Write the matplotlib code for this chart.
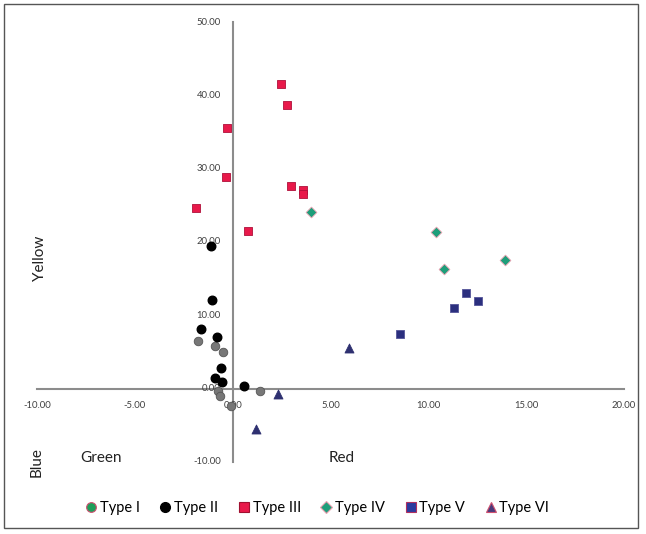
import matplotlib
matplotlib.use("Agg")
import matplotlib.pyplot as plt
from matplotlib.patches import Rectangle
from matplotlib.lines import Line2D

plt.rcParams['font.family'] = ['Lato', 'DejaVu Sans']

# Data (x = Green(-)/Red(+), y = Blue(-)/Yellow(+))
type1_x = [-1.77, -0.92, -0.47, 1.41, -0.75, -0.66, -0.07]
type1_y = [6.5, 5.8, 5.0, -0.3, -0.3, -1.0, -2.3]

type2_x = [-1.09, -1.06, -1.62, -0.80, -0.58, -0.90, -0.56, 0.58]
type2_y = [19.4, 12.1, 8.1, 7.1, 2.8, 1.5, 0.9, 0.3]

type3_x = [2.45, 2.77, -0.27, -0.32, 3.00, 3.59, 3.59, -1.89, 0.77]
type3_y = [41.6, 38.7, 35.6, 28.8, 27.7, 27.1, 26.6, 24.7, 21.5]

type4_x = [4.0, 10.4, 10.8, 13.9]
type4_y = [24.1, 21.3, 16.3, 17.6]

type5_x = [11.9, 12.55, 11.3, 8.57]
type5_y = [13.1, 11.9, 11.0, 7.4]

type6_x = [5.92, 2.31, 1.19]
type6_y = [5.6, -0.7, -5.5]

xticks = [-10, -5, 0, 5, 10, 15, 20]
yticks = [-10, 0, 10, 20, 30, 40, 50]

fig = plt.figure(figsize=(6.46, 5.34), dpi=100)
fig.patches.append(Rectangle((0.006, 0.011), 0.982, 0.982, transform=fig.transFigure,
                             fill=False, edgecolor='#555555', linewidth=1.0))

ax = fig.add_axes([37/646, 1-462/534, (624-37)/646, (462-22)/534])
ax.set_xlim(-10, 20)
ax.set_ylim(-10, 50)

for s in ['top', 'right']:
    ax.spines[s].set_visible(False)
ax.spines['left'].set_position(('data', 0))
ax.spines['bottom'].set_position(('data', 0))
for s in ['left', 'bottom']:
    ax.spines[s].set_color('#8c8c8c')
    ax.spines[s].set_linewidth(1.5)
ax.tick_params(length=0)
ax.set_xticks(xticks)
ax.set_yticks(yticks)
ax.set_xticklabels([])
ax.set_yticklabels([])
for v in xticks:
    ax.text(v, -2.3, f"{v:.2f}", ha='center', va='center', fontsize=6.8, color='#404040')
for v in yticks:
    ax.text(-0.6, v, f"{v:.2f}", ha='right', va='center', fontsize=6.8, color='#404040')

ax.scatter(type1_x, type1_y, marker='o', s=38, color='#777777', edgecolor='#555555', linewidth=0.6, zorder=3)
ax.scatter(type2_x, type2_y, marker='o', s=38, color='#000000', zorder=3)
ax.scatter(type3_x, type3_y, marker='s', s=36, color='#E8194A', edgecolor='#B0103A', linewidth=0.6, zorder=3)
ax.scatter(type4_x, type4_y, marker='D', s=30, color='#1E9E7A', edgecolor='#E8A0B0', linewidth=0.6, zorder=3)
ax.scatter(type5_x, type5_y, marker='s', s=36, color='#2B2F7E', edgecolor='#555599', linewidth=0.6, zorder=3)
ax.scatter(type6_x, type6_y, marker='^', s=42, color='#2E3070', edgecolor='#2E3070', linewidth=0.6, zorder=3)

# Axis direction labels
fig.text(40/646, 1-258/534, "Yellow", rotation=90, ha='center', va='center', fontsize=11, color='#222222')
fig.text(37/646, 1-462/534, "Blue", rotation=90, ha='center', va='center', fontsize=11, color='#222222')
fig.text(101/646, 1-458/534, "Green", ha='center', va='center', fontsize=11, color='#222222')
fig.text(342/646, 1-458/534, "Red", ha='center', va='center', fontsize=11, color='#222222')

handles = [
    Line2D([], [], ls='', marker='o', ms=7, mfc='#1E9E5A', mec='#D05070', mew=0.8),
    Line2D([], [], ls='', marker='o', ms=7, mfc='#000000', mec='#000000'),
    Line2D([], [], ls='', marker='s', ms=7, mfc='#E8194A', mec='#A01030', mew=0.8),
    Line2D([], [], ls='', marker='D', ms=6, mfc='#1E9E7A', mec='#E8A0B0', mew=0.8),
    Line2D([], [], ls='', marker='s', ms=7, mfc='#2B3A9E', mec='#B03060', mew=0.8),
    Line2D([], [], ls='', marker='^', ms=7.5, mfc='#4A3A7A', mec='#D05070', mew=0.8),
]
labels = ["Type I", "Type II", "Type III", "Type IV", "Type V", "Type VI"]
fig.legend(handles, labels, loc='center', bbox_to_anchor=(0.49, 1-508/534), ncol=6,
           frameon=False, fontsize=10.5, handletextpad=0.1, columnspacing=1.25, handlelength=1.0)

fig.savefig("out.png", dpi=100)
